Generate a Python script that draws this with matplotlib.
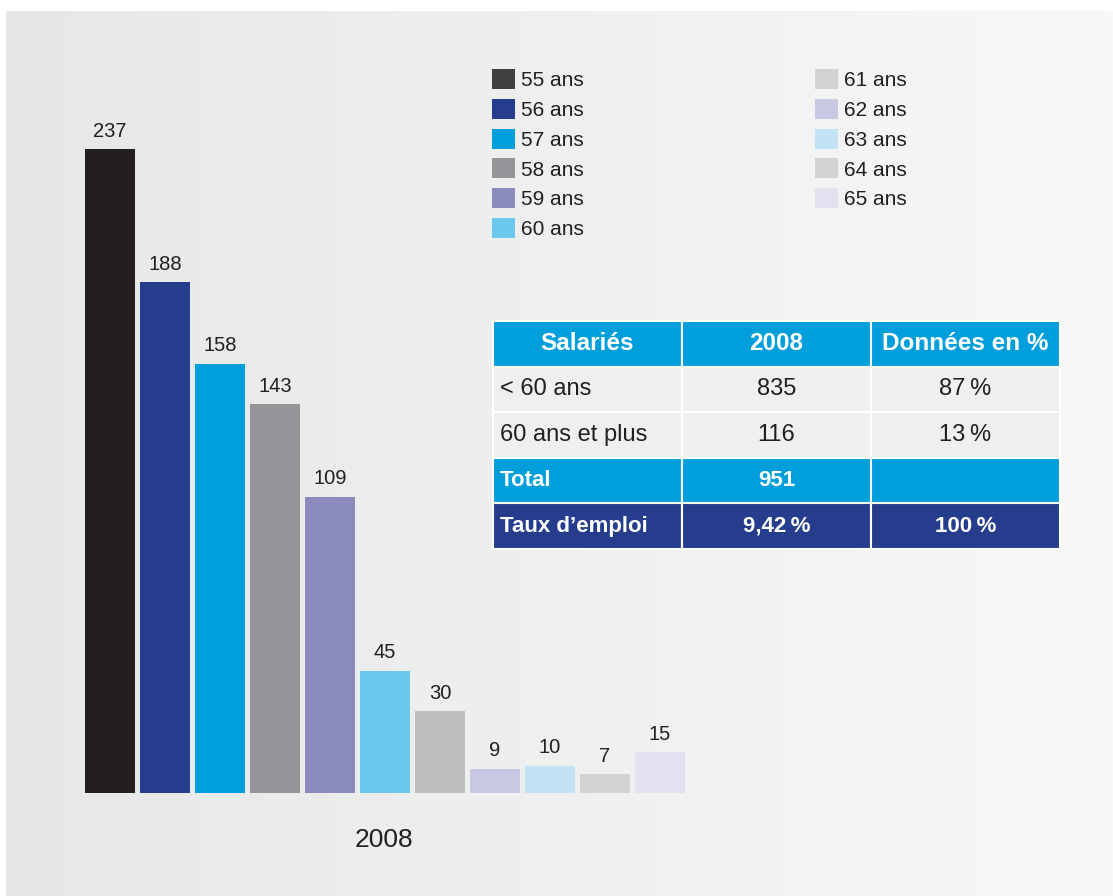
import numpy as np
import matplotlib
matplotlib.use("Agg")
import matplotlib.pyplot as plt
from matplotlib.colors import LinearSegmentedColormap

plt.rcParams['font.family'] = ['Liberation Sans', 'DejaVu Sans']

# salariés par âge, 2008
ages = ["55 ans", "56 ans", "57 ans", "58 ans", "59 ans", "60 ans",
        "61 ans", "62 ans", "63 ans", "64 ans", "65 ans"]
effectifs = [237, 188, 158, 143, 109, 45, 30, 9, 10, 7, 15]
couleurs = ["#231f20", "#253d8c", "#009fdb", "#939598", "#8a8abd", "#6bc7ec",
            "#bdbec0", "#c8c8e2", "#c2e3f4", "#d1d3d4", "#e2e1f0"]
annee = "2008"

# tableau récapitulatif
entete = ["Salariés", "2008", "Données en %"]
lignes = [["< 60 ans", "835", "87\u2009%"],
          ["60 ans et plus", "116", "13\u2009%"],
          ["Total", "951", ""],
          ["Taux d\u2019emploi", "9,42\u2009%", "100\u2009%"]]
fond_lignes = ["#efefef", "#efefef", "#009fdb", "#253d8c"]

W, H = 1113, 896
fig = plt.figure(figsize=(W / 100, H / 100), dpi=100, facecolor="white")

def px(x0, y0, x1, y1):
    # rectangle in pixel coords (top-left origin) -> figure fraction
    return [x0 / W, 1 - y1 / H, (x1 - x0) / W, (y1 - y0) / H]

# fond gris en dégradé
bg = fig.add_axes(px(6, 11, W, H))
grad = LinearSegmentedColormap.from_list("fond", ["#e6e7e7", "#f8f8f8"])
bg.imshow(np.linspace(0, 1, 256)[None, :], cmap=grad, aspect="auto",
          extent=[0, 1, 0, 1])
bg.set_axis_off()

# barres
ax = fig.add_axes(px(85, 793 - 250 * 644 / 237, 685, 793))
ax.patch.set_alpha(0)
x = np.arange(len(ages))
bars = ax.bar(x, effectifs, width=50 / 55, color=couleurs)
ax.set_xlim(-0.5 * 50 / 55, len(ages) - 1 + 0.5 * 50 / 55)
ax.set_ylim(0, 250)
ax.set_axis_off()
ax.bar_label(bars, padding=6, fontsize=14.5, color="#231f20")

fig.text(384 / W, 1 - 847 / H, annee, ha="center", va="baseline",
         fontsize=19, color="#231f20")

leg = fig.legend(bars.patches, ages, ncol=2, loc="upper left",
                 bbox_to_anchor=(492 / W, 1 - 69 / H), frameon=False,
                 fontsize=15, handlelength=1.1, handleheight=1.1,
                 handletextpad=0.3, labelspacing=0.42, columnspacing=11.1,
                 borderaxespad=0, borderpad=0)
for t in leg.get_texts():
    t.set_color("#231f20")
# pastilles de légende un peu plus claires que les barres
leg.legend_handles[0].set_facecolor("#404040")
leg.legend_handles[6].set_facecolor("#d1d3d4")

# tableau
tax = fig.add_axes(px(493, 321, 1060, 549))
tax.set_axis_off()
tab = tax.table(cellText=lignes, colLabels=entete, bbox=[0, 0, 1, 1],
                cellLoc="center")
tab.auto_set_font_size(False)
for (r, c), cell in tab.get_celld().items():
    cell.set_edgecolor("white")
    cell.set_linewidth(1.5)
    txt = cell.get_text()
    if r == 0:
        cell.set_facecolor("#009fdb")
        txt.set_color("white")
        txt.set_fontweight("bold")
        txt.set_fontsize(17.5)
    else:
        cell.set_facecolor(fond_lignes[r - 1])
        if r >= 3:
            txt.set_color("white")
            txt.set_fontweight("bold")
            txt.set_fontsize(16)
        else:
            txt.set_color("#231f20")
            txt.set_fontsize(17)
        if c == 0:
            cell.set_text_props(ha="left")
            cell.PAD = 0.035

fig.savefig("out.png", dpi=100, facecolor="white")
